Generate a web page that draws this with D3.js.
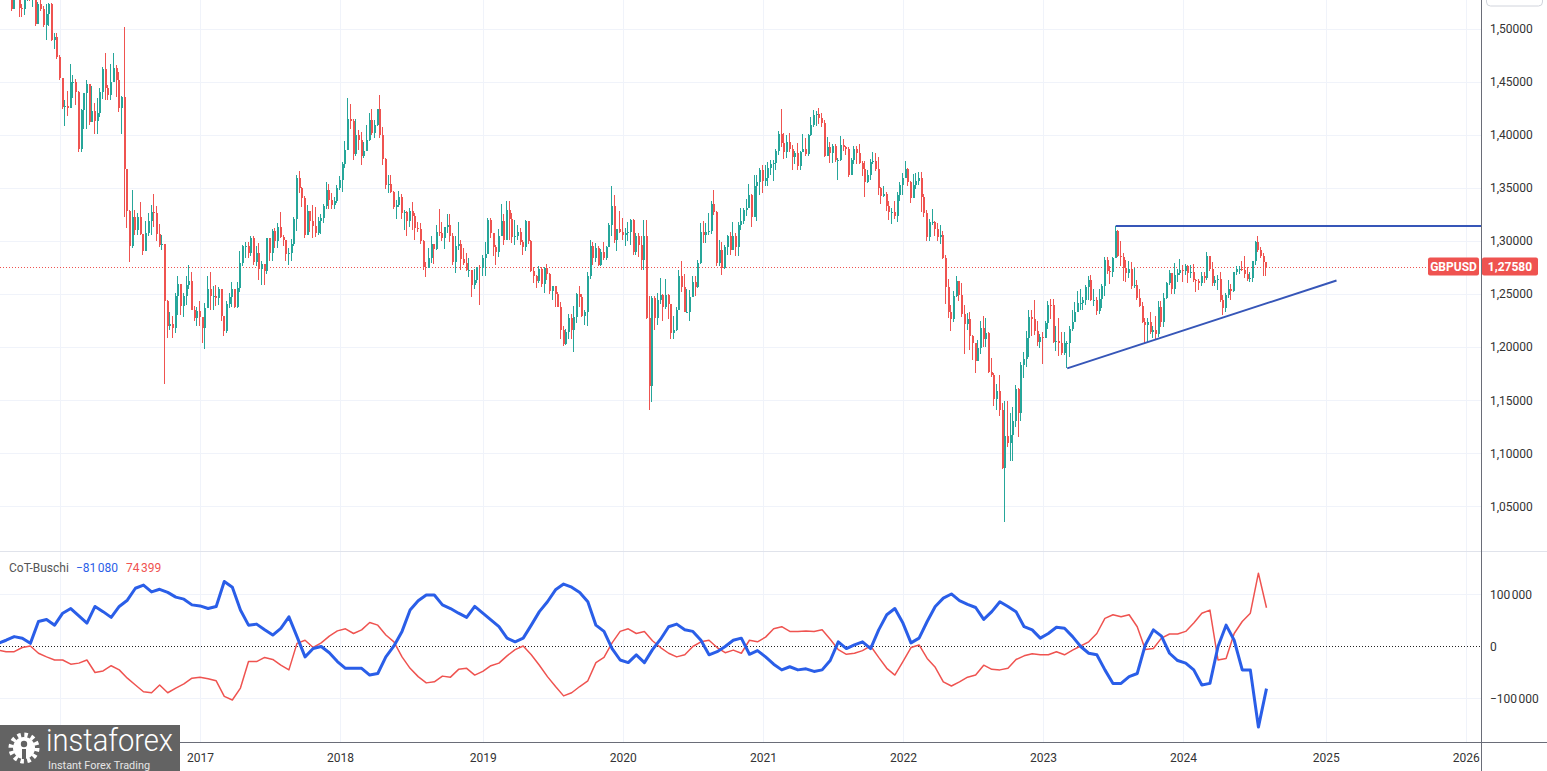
<!DOCTYPE html>
<html><head><meta charset="utf-8">
<script src="https://cdn.jsdelivr.net/npm/d3@7"></script>
<style>
body{margin:0;background:#fff;overflow:hidden}
svg{display:block}
text{font-family:Roboto,"Noto Sans",sans-serif}
</style>
</head><body>
<svg id="c" width="1547" height="771"></svg>
<script>
// ---------------- DATA ----------------
const firstWeek = "2015-08-17";   // Monday of first weekly candle
const firstOpen = 1.5625;
// weekly candles: [close, high, low]
const gbp2015 = [[1.5700,1.5735,1.5560],[1.5380,1.5818,1.5330],[1.5186,1.5390,1.5164],[1.5430,1.5450,1.5182],[1.5531,1.5659,1.5330],[1.5193,1.5535,1.5107],[1.5185,1.5230,1.5107],[1.5328,1.5385,1.5130],[1.5478,1.5509,1.5256],[1.5395,1.5509,1.5262],[1.5428,1.5470,1.5199],[1.5044,1.5444,1.5025],[1.5230,1.5245,1.5125],[1.5186,1.5298,1.5169],[1.5036,1.5215,1.5018],[1.5132,1.5230,1.4893],[1.5234,1.5243,1.5028],[1.4896,1.5241,1.4880],[1.4917,1.4953,1.4805],[1.4734,1.4955,1.4715]];
const gbp2016 = [[1.4536,1.4748,1.4513],[1.4262,1.4515,1.4240],[1.4267,1.4330,1.4080],[1.4250,1.4411,1.4180],[1.4499,1.4668,1.4250],[1.4500,1.4560,1.4350],[1.4399,1.4520,1.4276],[1.3866,1.4409,1.3835],[1.4232,1.4245,1.3836],[1.4389,1.4390,1.4056],[1.4476,1.4514,1.4054],[1.4115,1.4459,1.4088],[1.4223,1.4459,1.4130],[1.4125,1.4295,1.4006],[1.4200,1.4346,1.4005],[1.4403,1.4437,1.4170],[1.4617,1.4640,1.4334],[1.4438,1.4771,1.4330],[1.4371,1.4470,1.4330],[1.4500,1.4664,1.4330],[1.4625,1.4769,1.4536],[1.4518,1.4660,1.4354],[1.4256,1.4590,1.4213],[1.4359,1.4360,1.4010],[1.3679,1.5018,1.3229],[1.3282,1.3537,1.3121],[1.2950,1.3291,1.2798],[1.3221,1.3481,1.2932],[1.3100,1.3288,1.3055],[1.3226,1.3261,1.3058],[1.3069,1.3370,1.3057],[1.2906,1.3063,1.2867],[1.3075,1.3186,1.2914],[1.3189,1.3261,1.3045],[1.3271,1.3340,1.3059],[1.3263,1.3444,1.3131],[1.3063,1.3326,1.3000],[1.2966,1.3161,1.2945],[1.2972,1.3058,1.2911],[1.2434,1.2974,1.1650],[1.2198,1.2445,1.2087],[1.2222,1.2330,1.2163],[1.2180,1.2296,1.2081],[1.2480,1.2505,1.2136],[1.2590,1.2671,1.2302],[1.2390,1.2588,1.2304],[1.2478,1.2510,1.2286],[1.2588,1.2670,1.2400],[1.2620,1.2775,1.2547],[1.2351,1.2707,1.2350],[1.2273,1.2386,1.2249],[1.2340,1.2375,1.2200]];
const gbp2017 = [[1.2281,1.2433,1.2199],[1.2178,1.2280,1.2036],[1.2370,1.2417,1.1986],[1.2550,1.2674,1.2370],[1.2478,1.2706,1.2345],[1.2478,1.2580,1.2347],[1.2465,1.2582,1.2383],[1.2548,1.2570,1.2400],[1.2295,1.2550,1.2250],[1.2155,1.2294,1.2109],[1.2402,1.2431,1.2132],[1.2475,1.2510,1.2370],[1.2550,1.2615,1.2378],[1.2378,1.2545,1.2365],[1.2553,1.2615,1.2366],[1.2790,1.2905,1.2517],[1.2950,1.2965,1.2761],[1.2956,1.2990,1.2843],[1.2887,1.2990,1.2840],[1.3030,1.3048,1.2861],[1.2800,1.3045,1.2773],[1.2885,1.2950,1.2767],[1.2740,1.2980,1.2635],[1.2784,1.2813,1.2588],[1.2716,1.2778,1.2589],[1.3025,1.3029,1.2693],[1.2885,1.3024,1.2812],[1.3095,1.3113,1.2811],[1.3000,1.3125,1.2932],[1.3135,1.3165,1.2932],[1.3033,1.3268,1.3025],[1.3010,1.3060,1.2952],[1.2875,1.2960,1.2808],[1.2883,1.2935,1.2774],[1.2970,1.3018,1.2810],[1.3202,1.3223,1.2955],[1.3590,1.3616,1.3090],[1.3495,1.3657,1.3452],[1.3400,1.3505,1.3320],[1.3060,1.3424,1.3030],[1.3285,1.3337,1.3120],[1.3190,1.3260,1.3086],[1.3140,1.3335,1.3028],[1.3073,1.3320,1.3037],[1.3190,1.3224,1.3060],[1.3215,1.3258,1.3062],[1.3327,1.3352,1.3171],[1.3483,1.3550,1.3303],[1.3385,1.3540,1.3302],[1.3338,1.3450,1.3301],[1.3375,1.3410,1.3299],[1.3500,1.3526,1.3360]];
const gbp2018 = [[1.3570,1.3614,1.3475],[1.3720,1.3744,1.3460],[1.3860,1.3944,1.3683],[1.4150,1.4346,1.3855],[1.4125,1.4285,1.4055],[1.3820,1.4145,1.3765],[1.4000,1.4145,1.3800],[1.3950,1.4041,1.3859],[1.3795,1.4024,1.3712],[1.3850,1.3930,1.3780],[1.3950,1.4088,1.3854],[1.4140,1.4200,1.3945],[1.4020,1.4245,1.4000],[1.4090,1.4140,1.3965],[1.4240,1.4245,1.4080],[1.4000,1.4377,1.3965],[1.3775,1.4070,1.3710],[1.3530,1.3785,1.3489],[1.3540,1.3620,1.3450],[1.3465,1.3620,1.3448],[1.3315,1.3470,1.3305],[1.3335,1.3385,1.3205],[1.3410,1.3474,1.3322],[1.3265,1.3443,1.3209],[1.3270,1.3294,1.3102],[1.3190,1.3278,1.3048],[1.3280,1.3312,1.3130],[1.3235,1.3365,1.3100],[1.3125,1.3259,1.3010],[1.3110,1.3175,1.3088],[1.3000,1.3173,1.2975],[1.2750,1.3009,1.2725],[1.2745,1.2800,1.2662],[1.2840,1.2932,1.2790],[1.2970,1.3043,1.2790],[1.2925,1.2950,1.2785],[1.3080,1.3149,1.2915],[1.3070,1.3297,1.3045],[1.3030,1.3175,1.2997],[1.3130,1.3135,1.2922],[1.3150,1.3258,1.3070],[1.3050,1.3255,1.2990],[1.2805,1.3075,1.2777],[1.2950,1.3042,1.2695],[1.2975,1.3175,1.2918],[1.2828,1.3010,1.2725],[1.2795,1.2929,1.2775],[1.2725,1.2885,1.2718],[1.2730,1.2840,1.2658],[1.2583,1.2668,1.2475],[1.2630,1.2735,1.2548],[1.2750,1.2756,1.2605]];
const gbp2019 = [[1.2745,1.2770,1.2400],[1.2840,1.2866,1.2670],[1.2875,1.2986,1.2670],[1.3195,1.3218,1.2875],[1.3075,1.3215,1.3030],[1.2940,1.3060,1.2855],[1.2900,1.2960,1.2773],[1.3050,1.3110,1.2850],[1.3192,1.3350,1.3100],[1.3012,1.3255,1.2963],[1.3290,1.3380,1.3030],[1.3210,1.3380,1.3005],[1.3040,1.3260,1.2977],[1.3045,1.3200,1.2960],[1.3080,1.3150,1.3010],[1.2990,1.3120,1.2960],[1.2945,1.3010,1.2865],[1.3185,1.3200,1.2902],[1.2995,1.3177,1.2969],[1.2720,1.3007,1.2705],[1.2665,1.2750,1.2605],[1.2625,1.2680,1.2558],[1.2740,1.2765,1.2600],[1.2590,1.2750,1.2570],[1.2745,1.2750,1.2505],[1.2690,1.2784,1.2630],[1.2525,1.2700,1.2500],[1.2575,1.2575,1.2440],[1.2500,1.2580,1.2380],[1.2375,1.2520,1.2375],[1.2165,1.2420,1.2080],[1.2030,1.2200,1.2015],[1.2145,1.2175,1.2016],[1.2275,1.2310,1.2075],[1.2160,1.2310,1.2080],[1.2288,1.2385,1.1958],[1.2500,1.2505,1.2230],[1.2475,1.2580,1.2380],[1.2290,1.2500,1.2280],[1.2330,1.2350,1.2205],[1.2665,1.2707,1.2195],[1.2950,1.3013,1.2640],[1.2840,1.2985,1.2770],[1.2935,1.2978,1.2805],[1.2775,1.2948,1.2768],[1.2900,1.2925,1.2768],[1.2840,1.2985,1.2820],[1.2940,1.2955,1.2820],[1.3150,1.3168,1.2940],[1.3330,1.3515,1.3050],[1.3010,1.3435,1.2976],[1.3110,1.3115,1.2905]];
const gbp2020 = [[1.3085,1.3285,1.3070],[1.3060,1.3215,1.3013],[1.3070,1.3120,1.2953],[1.3080,1.3174,1.3000],[1.3200,1.3208,1.2960],[1.2895,1.3210,1.2870],[1.3045,1.3070,1.2870],[1.2960,1.3070,1.2850],[1.2820,1.3050,1.2725],[1.3050,1.3200,1.2725],[1.2275,1.3200,1.2260],[1.1630,1.2480,1.1410],[1.2460,1.2485,1.1480],[1.2270,1.2485,1.2165],[1.2445,1.2510,1.2205],[1.2490,1.2650,1.2404],[1.2375,1.2500,1.2250],[1.2495,1.2640,1.2355],[1.2405,1.2500,1.2265],[1.2135,1.2405,1.2075],[1.2165,1.2295,1.2075],[1.2345,1.2375,1.2155],[1.2670,1.2730,1.2360],[1.2565,1.2812,1.2515],[1.2335,1.2688,1.2335],[1.2335,1.2544,1.2333],[1.2475,1.2540,1.2250],[1.2615,1.2670,1.2475],[1.2565,1.2670,1.2480],[1.2790,1.2820,1.2560],[1.3085,1.3168,1.2780],[1.3055,1.3185,1.2980],[1.3085,1.3165,1.2980],[1.3090,1.3265,1.3060],[1.3350,1.3380,1.3065],[1.3275,1.3482,1.3240],[1.2795,1.3285,1.2763],[1.2915,1.3005,1.2765],[1.2745,1.2985,1.2675],[1.2940,1.2960,1.2740],[1.3045,1.3060,1.2865],[1.2915,1.3080,1.2865],[1.3045,1.3176,1.2920],[1.2945,1.3070,1.2855],[1.3150,1.3175,1.2855],[1.3190,1.3314,1.3105],[1.3290,1.3312,1.3155],[1.3310,1.3399,1.3230],[1.3435,1.3540,1.3310],[1.3225,1.3440,1.3135],[1.3515,1.3625,1.3260],[1.3555,1.3625,1.3185],[1.3670,1.3687,1.3430]];
const gbp2021 = [[1.3565,1.3710,1.3450],[1.3590,1.3710,1.3520],[1.3685,1.3746,1.3520],[1.3720,1.3760,1.3625],[1.3735,1.3760,1.3565],[1.3850,1.3867,1.3670],[1.4010,1.4036,1.3810],[1.3925,1.4240,1.3885],[1.3835,1.4017,1.3775],[1.3930,1.4000,1.3780],[1.3865,1.4015,1.3835],[1.3790,1.3900,1.3670],[1.3830,1.3850,1.3720],[1.3705,1.3920,1.3670],[1.3840,1.3845,1.3670],[1.3870,1.4010,1.3860],[1.3820,1.3970,1.3800],[1.4000,1.4006,1.3800],[1.4095,1.4165,1.3990],[1.4185,1.4233,1.4070],[1.4195,1.4220,1.4080],[1.4160,1.4250,1.4100],[1.4110,1.4200,1.4075],[1.3800,1.4135,1.3787],[1.3880,1.3980,1.3820],[1.3830,1.3935,1.3730],[1.3890,1.3910,1.3730],[1.3760,1.3910,1.3745],[1.3760,1.3785,1.3570],[1.3900,1.3985,1.3750],[1.3880,1.3960,1.3850],[1.3865,1.3895,1.3805],[1.3620,1.3885,1.3600],[1.3760,1.3785,1.3640],[1.3865,1.3890,1.3725],[1.3825,1.3890,1.3725],[1.3730,1.3912,1.3725],[1.3680,1.3750,1.3610],[1.3550,1.3750,1.3410],[1.3620,1.3670,1.3545],[1.3745,1.3775,1.3570],[1.3755,1.3835,1.3720],[1.3680,1.3830,1.3660],[1.3500,1.3790,1.3430],[1.3420,1.3510,1.3350],[1.3440,1.3515,1.3410],[1.3330,1.3460,1.3280],[1.3270,1.3375,1.3195],[1.3270,1.3310,1.3160],[1.3235,1.3376,1.3205],[1.3430,1.3465,1.3175],[1.3530,1.3550,1.3380]];
const gbp2022 = [[1.3590,1.3640,1.3430],[1.3675,1.3748,1.3590],[1.3550,1.3690,1.3520],[1.3400,1.3565,1.3358],[1.3530,1.3628,1.3425],[1.3565,1.3643,1.3490],[1.3595,1.3645,1.3530],[1.3410,1.3645,1.3273],[1.3260,1.3440,1.3225],[1.3035,1.3290,1.3000],[1.3180,1.3210,1.3000],[1.3180,1.3300,1.3150],[1.3110,1.3190,1.3050],[1.3035,1.3165,1.3000],[1.3060,1.3150,1.2970],[1.2835,1.3090,1.2825],[1.2570,1.2870,1.2410],[1.2335,1.2640,1.2275],[1.2265,1.2400,1.2155],[1.2485,1.2525,1.2240],[1.2620,1.2667,1.2475],[1.2490,1.2600,1.2430],[1.2310,1.2600,1.2280],[1.2215,1.2400,1.1935],[1.2265,1.2325,1.2160],[1.2100,1.2330,1.1975],[1.2035,1.2110,1.1875],[1.1870,1.2000,1.1760],[1.1995,1.2065,1.1890],[1.2180,1.2245,1.1935],[1.2075,1.2290,1.2005],[1.2135,1.2275,1.2000],[1.1765,1.2140,1.1760],[1.1735,1.1900,1.1715],[1.1510,1.1760,1.1445],[1.1585,1.1650,1.1405],[1.1405,1.1740,1.1350],[1.0860,1.1475,1.0850],[1.1160,1.1495,1.0350],[1.1095,1.1495,1.1060],[1.1175,1.1380,1.0925],[1.1305,1.1440,1.0925],[1.1610,1.1645,1.1250],[1.1375,1.1615,1.1150],[1.1835,1.1855,1.1305],[1.1890,1.1950,1.1710],[1.2090,1.2150,1.1810],[1.2285,1.2345,1.1905],[1.2265,1.2345,1.2105],[1.2155,1.2445,1.2110],[1.2050,1.2243,1.2015],[1.2095,1.2120,1.1995]];
const gbp2023 = [[1.2090,1.2145,1.1840],[1.2225,1.2245,1.2090],[1.2400,1.2435,1.2170],[1.2395,1.2450,1.2260],[1.2050,1.2450,1.2040],[1.2060,1.2195,1.1960],[1.2035,1.2270,1.1915],[1.1945,1.2145,1.1925],[1.2040,1.2145,1.1925],[1.2040,1.2060,1.1800],[1.2175,1.2200,1.1910],[1.2235,1.2345,1.2150],[1.2335,1.2425,1.2250],[1.2415,1.2525,1.2345],[1.2415,1.2545,1.2345],[1.2440,1.2475,1.2345],[1.2565,1.2585,1.2395],[1.2630,1.2665,1.2445],[1.2440,1.2680,1.2435],[1.2445,1.2545,1.2390],[1.2340,1.2470,1.2305],[1.2450,1.2545,1.2310],[1.2575,1.2590,1.2370],[1.2820,1.2848,1.2485],[1.2715,1.2850,1.2690],[1.2705,1.2760,1.2590],[1.2840,1.2850,1.2660],[1.3090,1.3145,1.2840],[1.2855,1.3100,1.2845],[1.2850,1.2995,1.2760],[1.2745,1.2890,1.2620],[1.2700,1.2820,1.2615],[1.2735,1.2815,1.2650],[1.2575,1.2800,1.2545],[1.2585,1.2745,1.2560],[1.2465,1.2635,1.2445],[1.2385,1.2545,1.2380],[1.2240,1.2425,1.2230],[1.2205,1.2275,1.2035],[1.2240,1.2275,1.2035],[1.2140,1.2335,1.2120],[1.2165,1.2200,1.2090],[1.2125,1.2290,1.2070],[1.2375,1.2430,1.2095],[1.2240,1.2430,1.2185],[1.2460,1.2505,1.2185],[1.2605,1.2615,1.2455],[1.2700,1.2730,1.2585],[1.2550,1.2665,1.2500],[1.2680,1.2795,1.2500],[1.2700,1.2735,1.2610],[1.2725,1.2825,1.2680]];
const gbp2024 = [[1.2720,1.2770,1.2610],[1.2760,1.2785,1.2680],[1.2700,1.2770,1.2600],[1.2705,1.2775,1.2650],[1.2635,1.2785,1.2615],[1.2625,1.2645,1.2520],[1.2600,1.2645,1.2535],[1.2670,1.2710,1.2575],[1.2655,1.2710,1.2600],[1.2860,1.2895,1.2630],[1.2740,1.2860,1.2720],[1.2600,1.2805,1.2575],[1.2635,1.2665,1.2575],[1.2640,1.2675,1.2540],[1.2445,1.2710,1.2425],[1.2370,1.2495,1.2300],[1.2490,1.2510,1.2330],[1.2545,1.2635,1.2465],[1.2525,1.2595,1.2445],[1.2705,1.2710,1.2520],[1.2740,1.2760,1.2680],[1.2740,1.2765,1.2685],[1.2725,1.2815,1.2715],[1.2685,1.2860,1.2655],[1.2645,1.2750,1.2625],[1.2650,1.2710,1.2615],[1.2810,1.2815,1.2615],[1.2990,1.2995,1.2775],[1.2915,1.3045,1.2895],[1.2860,1.2945,1.2835],[1.2800,1.2890,1.2665],[1.2758,1.2800,1.2665]];

// CoT-Buschi indicator, thousands of contracts, one value every 3 weeks
const cotStart = "2015-07-27";
const cotStepWeeks = 3;
const cotBlue = [6,12,19,16,6,48,52,41,64,73,
59,45,77,67,56,77,89,112,118,105,
110,104,95,91,80,78,73,77,125,114,
70,41,43,32,22,35,57,19,-20,-4,
0,-12,-29,-42,-42,-42,-55,-52,-20,1,
29,70,88,99,99,80,73,64,56,77,
64,51,38,16,9,16,41,67,86,109,
120,114,104,86,41,29,-4,-26,-31,-16,
-31,-6,14,38,43,32,29,12,-16,-10,
0,12,16,-15,-8,-20,-34,-45,-39,-45,
-43,-48,-45,-27,9,-4,3,9,-4,32,
61,73,45,7,16,48,77,93,101,88,
81,75,52,67,86,77,67,38,32,16,
25,37,35,19,0,-13,-16,-45,-71,-71,
-58,-52,3,32,20,-13,-27,-32,-45,-74,
-71,0,41,12,-45,-45,-155,-81.08];
const cotRed = [-7,-10,-10,-2,1,-13,-20,-26,-26,-34,
-32,-26,-50,-47,-37,-45,-61,-74,-87,-89,
-74,-89,-80,-72,-61,-59,-62,-66,-96,-103,
-80,-29,-29,-21,-25,-36,-45,6,12,-2,
7,20,30,34,25,32,46,41,22,9,
-20,-42,-58,-70,-68,-57,-59,-44,-42,-55,
-48,-37,-32,-18,-6,1,-16,-36,-58,-77,
-95,-89,-77,-66,-31,-21,7,29,34,25,
29,11,-2,-13,-20,-16,0,9,12,-2,
-12,-7,-13,12,9,18,34,38,29,29,
30,29,32,14,-6,-15,-13,-8,1,-21,
-42,-55,-29,-2,3,-23,-40,-68,-76,-68,
-59,-55,-36,-44,-45,-42,-25,-18,-14,-16,
-16,-10,-16,-7,1,9,25,54,61,57,
61,38,-6,-4,16,24,24,29,45,64,
70,-26,-23,25,48,64,141,74.399];

const priceTicks = [1.05,1.10,1.15,1.20,1.25,1.30,1.35,1.40,1.45,1.50];
const cotTicks = [-100000,0,100000];
const yearGrid = [2016,2017,2018,2019,2020,2021,2022,2023,2024,2025,2026];
const yearLabels = [2017,2018,2019,2020,2021,2022,2023,2024,2025,2026]; // 2016 hidden under the logo
const lastPrice = 1.2758;
const symbol = "GBPUSD";
const resistance = {from:"2023-07-10", level:1.3140};
const trendLine = [["2023-03-06",1.1800],["2025-02-03",1.2627]];
const legendName = "CoT-Buschi";

// ---------------- DRAW ----------------
const W=1547, H=771, PR=1481, PB=551, CT=552, CB=742;
const upC="#26a69a", dnC="#ef5350", blueC="#2a5ee8", redC="#ef5350", lineC="#3656b8";
const svg=d3.select("#c");
const parse=d3.utcParse("%Y-%m-%d");

const x=d3.scaleUtc().domain([parse("2016-01-04"),parse("2024-01-01")]).range([60,1183]);
const yP=d3.scaleLinear().domain([1.00800,1.52684]).range([PB,0]);
const yC=d3.scaleLinear().domain([-183700,181700]).range([CB,CT]);

const raw=[].concat(gbp2015,gbp2016,gbp2017,gbp2018,gbp2019,gbp2020,gbp2021,gbp2022,gbp2023,gbp2024);
const start=parse(firstWeek);
let prev=firstOpen;
const candles=raw.map((d,i)=>{const o=prev;prev=d[0];return {date:d3.utcMonday.offset(start,i),open:o,close:d[0],high:d[1],low:d[2]};});

const defs=svg.append("defs");
defs.append("clipPath").attr("id","cp").append("rect").attr("x",0).attr("y",0).attr("width",PR).attr("height",PB);
defs.append("clipPath").attr("id","cc").append("rect").attr("x",0).attr("y",CT).attr("width",PR).attr("height",CB-CT);

const firstMonday=y=>d3.utcMonday.ceil(new Date(Date.UTC(y,0,1)));
// grid
const grid=svg.append("g").attr("shape-rendering","crispEdges");
grid.selectAll(".vg").data(yearGrid.map(firstMonday)).join("line")
  .attr("x1",d=>Math.round(x(d))+0.5).attr("x2",d=>Math.round(x(d))+0.5)
  .attr("y1",0).attr("y2",CB).attr("stroke","#f0f3fa");
grid.selectAll(".hg").data(priceTicks).join("line")
  .attr("x1",0).attr("x2",PR).attr("y1",d=>Math.round(yP(d))+0.5).attr("y2",d=>Math.round(yP(d))+0.5)
  .attr("stroke","#f0f3fa");
grid.selectAll(".cg").data(cotTicks.filter(d=>d!==0)).join("line")
  .attr("x1",0).attr("x2",PR).attr("y1",d=>Math.round(yC(d))+0.5).attr("y2",d=>Math.round(yC(d))+0.5)
  .attr("stroke","#f0f3fa");
svg.append("line").attr("x1",0).attr("x2",W).attr("y1",PB+0.5).attr("y2",PB+0.5).attr("stroke","#e0e3eb");

// price line (dotted)
svg.append("line").attr("x1",0).attr("x2",1428).attr("y1",Math.round(yP(lastPrice))+0.5).attr("y2",Math.round(yP(lastPrice))+0.5)
  .attr("stroke",dnC).attr("stroke-dasharray","1,2").attr("stroke-width",1);

// candles
const cg=svg.append("g").attr("clip-path","url(#cp)").attr("shape-rendering","crispEdges");
cg.selectAll(".w").data(candles).join("rect")
  .attr("x",d=>Math.round(x(d.date))-1).attr("width",1)
  .attr("y",d=>yP(Math.max(d.high,d.open,d.close)))
  .attr("height",d=>Math.max(1,yP(Math.min(d.low,d.open,d.close))-yP(Math.max(d.high,d.open,d.close))))
  .attr("fill",d=>d.close>=d.open?upC:dnC);
cg.selectAll(".b").data(candles).join("rect")
  .attr("x",d=>Math.round(x(d.date))-1.5).attr("width",2)
  .attr("y",d=>yP(Math.max(d.open,d.close)))
  .attr("height",d=>Math.max(1,Math.abs(yP(d.open)-yP(d.close))))
  .attr("fill",d=>d.close>=d.open?upC:dnC);

// drawn lines
const lg=svg.append("g").attr("clip-path","url(#cp)");
lg.append("line").attr("x1",x(parse(resistance.from))).attr("x2",PR)
  .attr("y1",yP(resistance.level)).attr("y2",yP(resistance.level))
  .attr("stroke",lineC).attr("stroke-width",2);
lg.append("line").attr("x1",x(parse(trendLine[0][0]))).attr("y1",yP(trendLine[0][1]))
  .attr("x2",x(parse(trendLine[1][0]))).attr("y2",yP(trendLine[1][1]))
  .attr("stroke",lineC).attr("stroke-width",2);

// CoT panel
const cs=parse(cotStart);
const blue=cotBlue.map((v,i)=>({date:d3.utcMonday.offset(cs,i*cotStepWeeks),v:v*1000}));
const red=cotRed.map((v,i)=>({date:d3.utcMonday.offset(cs,i*cotStepWeeks),v:v*1000}));
const ln=d3.line().x(d=>x(d.date)).y(d=>yC(d.v));
const cotG=svg.append("g").attr("clip-path","url(#cc)");
cotG.append("line").attr("x1",0).attr("x2",PR).attr("y1",Math.round(yC(0))+0.5).attr("y2",Math.round(yC(0))+0.5)
  .attr("stroke","#222").attr("stroke-dasharray","1,2");
cotG.append("path").datum(red).attr("d",ln).attr("fill","none").attr("stroke",redC).attr("stroke-width",1.5).attr("stroke-linejoin","round");
cotG.append("path").datum(blue).attr("d",ln).attr("fill","none").attr("stroke",blueC).attr("stroke-width",3).attr("stroke-linejoin","round");

// legend
const leg=svg.append("text").attr("x",9).attr("y",572).attr("font-size",12);
leg.append("tspan").attr("fill","#555").text(legendName);
leg.append("tspan").attr("dx",7).attr("fill",blueC).text(d3.format(",")(Math.round(cotBlue[cotBlue.length-1]*1000)).replace(/,/g,"\u202F").replace("-","\u2212"));
leg.append("tspan").attr("dx",8).attr("fill",redC).text(d3.format(",")(Math.round(cotRed[cotRed.length-1]*1000)).replace(/,/g,"\u202F"));

// right axes
const axP=d3.axisRight(yP).tickValues(priceTicks).tickSize(0).tickPadding(9)
  .tickFormat(d=>d.toFixed(5).replace(".",","));
const gP=svg.append("g").attr("transform",`translate(${PR},0)`).call(axP);
const fmtC=d=>d===0?"0":(d<0?"\u2212":"")+d3.format(",")(Math.abs(d)).replace(/,/g,"\u202F");
const axC=d3.axisRight(yC).tickValues(cotTicks).tickSize(0).tickPadding(9).tickFormat(fmtC);
const gC=svg.append("g").attr("transform",`translate(${PR},0)`).call(axC);
[gP,gC].forEach(g=>{g.select(".domain").remove();g.selectAll("text").attr("fill","#333").attr("font-size",12).attr("font-family","Roboto,sans-serif");});
svg.append("line").attr("x1",PR+0.5).attr("x2",PR+0.5).attr("y1",0).attr("y2",H).attr("stroke","#6a6d78");

// bottom axis
const axX=d3.axisBottom(x).tickValues(yearLabels.map(firstMonday)).tickSize(0).tickPadding(11).tickFormat(d3.utcFormat("%Y"));
const gX=svg.append("g").attr("transform",`translate(0,${CB})`).call(axX);
gX.select(".domain").remove();
gX.selectAll("text").attr("fill","#333").attr("font-size",12).attr("font-family","Roboto,sans-serif");
svg.append("line").attr("x1",0).attr("x2",W).attr("y1",CB+0.5).attr("y2",CB+0.5).attr("stroke","#6a6d78");

// last price tags
const ly=yP(lastPrice);
svg.append("rect").attr("x",1428).attr("y",ly-9).attr("width",51).attr("height",18).attr("rx",2).attr("fill",dnC);
svg.append("text").attr("x",1453.5).attr("y",ly+4.5).attr("text-anchor","middle").attr("font-size",12).attr("font-weight","bold").attr("fill","#fff").text(symbol);
svg.append("rect").attr("x",1482).attr("y",ly-9).attr("width",56).attr("height",18).attr("rx",2).attr("fill",dnC);
svg.append("text").attr("x",1510).attr("y",ly+4.5).attr("text-anchor","middle").attr("font-size",12).attr("font-weight","bold").attr("fill","#fff").text(lastPrice.toFixed(5).replace(".",","));

// top-right button outline
svg.append("rect").attr("x",1486.5).attr("y",-10).attr("width",56).attr("height",16).attr("rx",4).attr("fill","#fff").attr("stroke","#d1d4dc");

// logo
const lgo=svg.append("g");
lgo.append("rect").attr("x",0).attr("y",725).attr("width",180).attr("height",46).attr("fill","#636363");
const gear=lgo.append("g").attr("transform","translate(24,748)");
gear.append("circle").attr("r",13).attr("fill","none").attr("stroke","#fff").attr("stroke-width",5).attr("stroke-dasharray","3.4,3.4");
gear.append("circle").attr("r",11).attr("fill","#fff");
gear.append("circle").attr("cy",-4).attr("r",3.2).attr("fill","#636363");
gear.append("rect").attr("x",-2).attr("y",1).attr("width",4).attr("height",10).attr("fill","#636363");
lgo.append("text").attr("x",46).attr("y",751).attr("font-size",31).attr("font-weight",300)
  .attr("fill","#fff").attr("font-family","Lato,sans-serif").attr("textLength",127).attr("lengthAdjust","spacingAndGlyphs").text("instaforex");
lgo.append("text").attr("x",48).attr("y",769).attr("font-size",10.5)
  .attr("fill","#e6e6e6").attr("font-family","Lato,sans-serif").attr("textLength",102).attr("lengthAdjust","spacingAndGlyphs").text("Instant Forex Trading");
</script>
</body></html>
